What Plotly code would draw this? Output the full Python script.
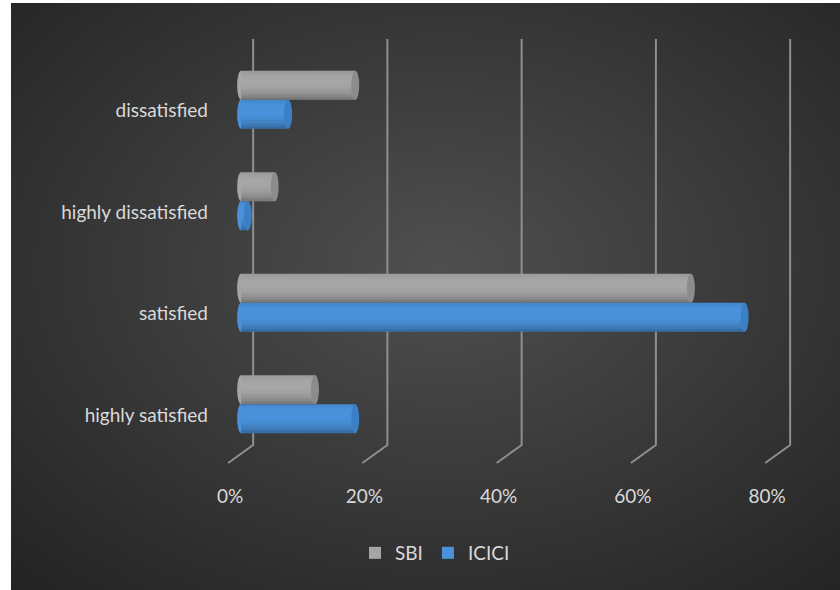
import base64
import plotly.graph_objects as go

# ---------------- data ----------------
categories = ["highly satisfied", "satisfied", "highly dissatisfied", "dissatisfied"]
sbi = [11, 67, 5, 17]
icici = [17, 75, 1, 7]
x_ticks = [0, 20, 40, 60, 80]
x_tick_labels = ["0%", "20%", "40%", "60%", "80%"]
series = [("SBI", sbi, "#a6a6a6", "#8c8c8c", 1), ("ICICI", icici, "#4a93dc", "#3b7fc4", 2)]

# ---------------- layout geometry ----------------
W, H = 840, 590
L, R, T, B = 221, 35, 49, 135
plot_w = W - L - R
plot_h = H - T - B
bar_w = 0.286
text_col = "#d9d9d9"
font_family = "Lato, 'Open Sans', sans-serif"

fig = go.Figure()

# ICICI is the lower bar in each group, SBI the upper one
offsets = {"SBI": 0.0, "ICICI": -bar_w}
for name, vals, col, capcol, rank in series:
    fig.add_trace(go.Bar(
        y=categories, x=vals, orientation="h", name=name,
        width=bar_w, offset=offsets[name],
        marker=dict(color=col, line=dict(width=0)),
        legendrank=rank, hoverinfo="skip",
    ))

shapes = []
# 3D-style gridlines: back wall vertical + floor diagonal
for t in x_ticks:
    shapes.append(dict(
        type="path", xref="x", yref="paper", xsizemode="pixel", ysizemode="pixel",
        xanchor=t, yanchor=0, path="M 12,416 L 12,10 L -13,-8",
        line=dict(color="#8f8f8f", width=2), layer="below",
    ))

# cylinder shading on bars
shade = [0.06, 0.02, 0.0, 0.0, 0.0, 0.02, 0.05, 0.10, 0.17, 0.26]
nsl = len(shade)
for name, vals, col, capcol, rank in series:
    off = offsets[name]
    for i, v in enumerate(vals):
        y_lo = i + off
        # left rounded end
        shapes.append(dict(type="circle", xref="x", yref="y", xsizemode="pixel",
                           xanchor=0, x0=-4, x1=4, y0=y_lo, y1=y_lo + bar_w,
                           fillcolor=col, line=dict(width=0), layer="above"))
        for k, a in enumerate(shade):
            if a <= 0:
                continue
            y1 = y_lo + bar_w - k * bar_w / nsl
            y0 = y_lo + bar_w - (k + 1) * bar_w / nsl
            shapes.append(dict(type="rect", xref="x", yref="y", x0=0, x1=v,
                               y0=y0, y1=y1, fillcolor=f"rgba(0,0,0,{a})",
                               line=dict(width=0), layer="above"))
        # end cap
        shapes.append(dict(type="circle", xref="x", yref="y", xsizemode="pixel",
                           xanchor=v, x0=-4, x1=4, y0=y_lo, y1=y_lo + bar_w,
                           fillcolor=capcol, line=dict(width=0), layer="above"))

# radial-gradient dark background
svg = (
    '<svg xmlns="http://www.w3.org/2000/svg" width="829" height="587" '
    'viewBox="0 0 829 587" preserveAspectRatio="none"><defs>'
    '<radialGradient id="g" cx="0.52" cy="0.45" r="0.75">'
    '<stop offset="0" stop-color="#4f4f4f"/><stop offset="1" stop-color="#232323"/>'
    '</radialGradient></defs><rect width="829" height="587" fill="url(#g)"/></svg>'
)
src = "data:image/svg+xml;base64," + base64.b64encode(svg.encode()).decode()
bg_left, bg_top = 11, 3
images = [dict(
    source=src, xref="paper", yref="paper",
    x=(bg_left - L) / plot_w, y=(H - B - bg_top) / plot_h,
    sizex=(W - bg_left) / plot_w, sizey=(H - bg_top) / plot_h,
    xanchor="left", yanchor="top", sizing="stretch", layer="below",
)]

fig.update_layout(
    width=W, height=H,
    margin=dict(l=L, r=R, t=T, b=B, pad=0),
    paper_bgcolor="white", plot_bgcolor="rgba(0,0,0,0)",
    barmode="overlay",
    font=dict(family=font_family, color=text_col, size=19),
    shapes=shapes, images=images,
    showlegend=True,
    legend=dict(orientation="h", x=(435 - L) / plot_w, xanchor="center",
                y=-(553 - (H - B)) / plot_h, yanchor="middle",
                font=dict(size=19, color=text_col), bgcolor="rgba(0,0,0,0)",
                itemwidth=30),
    xaxis=dict(range=[-3, 84], tickvals=x_ticks, ticktext=x_tick_labels, showgrid=False,
               zeroline=False, showline=False, ticks="", ticklabelshift=-11,
               ticklabelstandoff=28, tickfont=dict(size=19, color=text_col)),
    yaxis=dict(type="category", categoryorder="array", categoryarray=categories,
               range=[-0.5, 3.5], showgrid=False, zeroline=False, showline=False,
               ticks="", ticklabelshift=11, ticklabelstandoff=12,
               tickfont=dict(size=19, color=text_col)),
)

fig.write_html("out.html")
